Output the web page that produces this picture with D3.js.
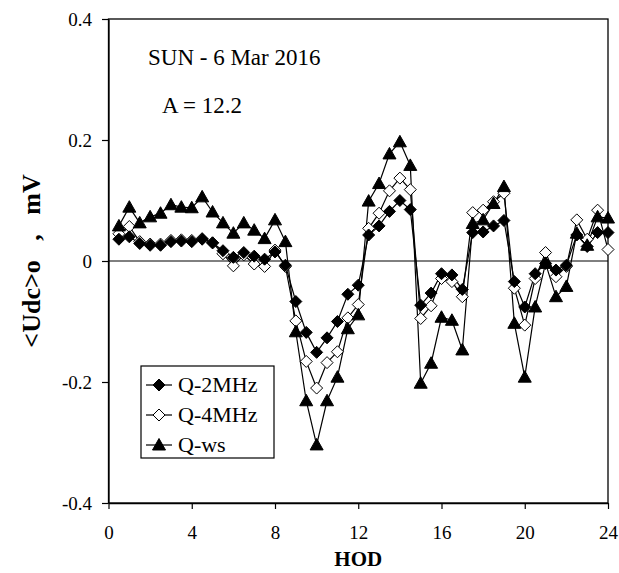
<!DOCTYPE html>
<html>
<head>
<meta charset="utf-8">
<script src="https://cdnjs.cloudflare.com/ajax/libs/d3/7.8.5/d3.min.js"></script>
<style>
  body { margin: 0; background: #fff; }
  #chart text { font-family: "Liberation Serif", "DejaVu Serif", "Times New Roman", Times, serif !important; }
</style>
</head>
<body>
<div id="chart"></div>
<script>
// hour of day, half-hour steps
var hours = [0.5, 1, 1.5, 2, 2.5, 3, 3.5, 4, 4.5, 5, 5.5, 6, 6.5, 7, 7.5, 8,
  8.5, 9, 9.5, 10, 10.5, 11, 11.5, 12, 12.5, 13, 13.5, 14, 14.5, 15, 15.5, 16,
  16.5, 17, 17.5, 18, 18.5, 19, 19.5, 20, 20.5, 21, 21.5, 22, 22.5, 23, 23.5, 24];

var q2MHz = [0.036, 0.040, 0.029, 0.026, 0.026, 0.032, 0.033, 0.032, 0.036, 0.030, 0.017, 0.006,
  0.014, 0.008, 0.003, 0.015, -0.007, -0.067, -0.118, -0.151, -0.127, -0.100, -0.055, -0.040,
  0.043, 0.058, 0.082, 0.100, 0.085, -0.073, -0.053, -0.021, -0.023, -0.047, 0.047, 0.048,
  0.058, 0.067, -0.034, -0.076, -0.021, -0.004, -0.015, -0.007, 0.043, 0.024, 0.047, 0.047];

var q4MHz = [0.045, 0.057, 0.032, 0.028, 0.028, 0.034, 0.035, 0.034, 0.037, 0.030, 0.012, -0.008,
  0.010, -0.005, -0.009, 0.018, -0.009, -0.099, -0.166, -0.210, -0.168, -0.150, -0.094, -0.072,
  0.054, 0.079, 0.116, 0.137, 0.118, -0.095, -0.074, -0.029, -0.034, -0.059, 0.080, 0.084,
  0.098, 0.112, -0.045, -0.106, -0.029, 0.014, -0.026, -0.009, 0.068, 0.036, 0.084, 0.019];

var qWs = [0.058, 0.089, 0.063, 0.073, 0.079, 0.093, 0.089, 0.088, 0.106, 0.081, 0.063, 0.046,
  0.063, 0.051, 0.037, 0.068, 0.032, -0.117, -0.231, -0.304, -0.231, -0.192, -0.112, -0.089,
  0.099, 0.128, 0.177, 0.197, 0.158, -0.202, -0.169, -0.093, -0.098, -0.147, 0.062, 0.068,
  0.095, 0.123, -0.103, -0.192, -0.076, -0.004, -0.059, -0.042, 0.046, 0.026, 0.073, 0.071];

var xTicks = [0, 4, 8, 12, 16, 20, 24];
var yTicks = [-0.4, -0.2, 0, 0.2, 0.4];
var yTickLabels = ["-0.4", "-0.2", "0", "0.2", "0.4"];

var seriesNames = ["Q-2MHz", "Q-4MHz", "Q-ws"];

var width = 619, height = 573;
var margin = {top: 19, right: 11, bottom: 70, left: 108.5};

var svg = d3.select("#chart").append("svg")
  .attr("width", width)
  .attr("height", height);

var x = d3.scaleLinear().domain([0, 24]).range([margin.left, width - margin.right]);
var y = d3.scaleLinear().domain([-0.4, 0.4]).range([height - margin.bottom, margin.top]);

// marker shapes (excel style)
function diamond(r) {
  return "M0," + (-r) + "L" + r + ",0L0," + r + "L" + (-r) + ",0Z";
}
function triangle() {
  return "M0,-6.5L6.5,5L-6.5,5Z";
}

var series = [
  {name: seriesNames[1], values: q4MHz, path: diamond(6), fill: "#fff"},
  {name: seriesNames[0], values: q2MHz, path: diamond(6), fill: "#000"},
  {name: seriesNames[2], values: qWs, path: triangle(), fill: "#000"}
];

// frame
svg.append("rect")
  .attr("x", x(0)).attr("y", y(0.4))
  .attr("width", x(24) - x(0)).attr("height", y(-0.4) - y(0.4))
  .attr("fill", "none").attr("stroke", "#000").attr("stroke-width", 1.3);

// zero line
svg.append("line")
  .attr("x1", x(0)).attr("x2", x(24))
  .attr("y1", y(0)).attr("y2", y(0))
  .attr("stroke", "#000").attr("stroke-width", 1);

var xAxis = svg.append("g")
  .attr("transform", "translate(0," + y(-0.4) + ")")
  .call(d3.axisBottom(x).tickValues(xTicks).tickSize(6).tickSizeOuter(0).tickPadding(17));

var yAxis = svg.append("g")
  .attr("transform", "translate(" + x(0) + ",0)")
  .call(d3.axisLeft(y).tickValues(yTicks).tickSize(6.5).tickSizeOuter(0).tickPadding(10)
    .tickFormat(function(d, i) { return yTickLabels[i]; }));

[xAxis, yAxis].forEach(function(g) {
  g.attr("font-family", null).attr("font-size", 19);
  g.select(".domain").attr("stroke-width", 1.3);
  g.selectAll(".tick line").attr("stroke-width", 1.2);
  g.selectAll("text").attr("fill", "#000");
});
yAxis.selectAll("text").attr("dy", "0.33em");

// lines + markers
var line = d3.line()
  .x(function(d, i) { return x(hours[i]); })
  .y(function(d) { return y(d); });

series.forEach(function(s) {
  svg.append("path")
    .attr("d", line(s.values))
    .attr("fill", "none")
    .attr("stroke", "#000")
    .attr("stroke-width", 1.2);
});

series.forEach(function(s) {
  svg.append("g").selectAll("path")
    .data(s.values)
    .enter().append("path")
    .attr("d", s.path)
    .attr("transform", function(d, i) { return "translate(" + x(hours[i]) + "," + y(d) + ")"; })
    .attr("fill", s.fill)
    .attr("stroke", "#000")
    .attr("stroke-width", 1);
});

// annotations
svg.append("text").attr("x", 148).attr("y", 65).attr("font-size", 23).text("SUN - 6 Mar 2016");
svg.append("text").attr("x", 162).attr("y", 113).attr("font-size", 23).text("A = 12.2");

// axis titles
svg.append("text")
  .attr("x", (x(0) + x(24)) / 2).attr("y", 566)
  .attr("text-anchor", "middle")
  .attr("font-size", 21).attr("font-weight", "bold")
  .text("HOD");

svg.append("text")
  .attr("transform", "translate(40," + y(0) + ") rotate(-90)")
  .attr("text-anchor", "middle")
  .attr("font-size", 26).attr("font-weight", "bold")
  .style("white-space", "pre")
  .text("<Udc>o   ,   mV");

// legend
var legend = svg.append("g");
legend.append("rect")
  .attr("x", 141).attr("y", 366).attr("width", 133).attr("height", 92)
  .attr("fill", "#fff").attr("stroke", "#000").attr("stroke-width", 1.2);

var legendItems = [
  {name: seriesNames[0], path: diamond(6), fill: "#000"},
  {name: seriesNames[1], path: diamond(6), fill: "#fff"},
  {name: seriesNames[2], path: triangle(), fill: "#000"}
];

legendItems.forEach(function(item, i) {
  var cy = 385 + i * 30;
  legend.append("line")
    .attr("x1", 146).attr("x2", 172).attr("y1", cy).attr("y2", cy)
    .attr("stroke", "#000").attr("stroke-width", 1.2);
  legend.append("path")
    .attr("d", item.path)
    .attr("transform", "translate(159," + cy + ")")
    .attr("fill", item.fill).attr("stroke", "#000");
  legend.append("text")
    .attr("x", 178).attr("y", cy + 7)
    .attr("font-size", 22)
    .text(item.name);
});
</script>
</body>
</html>
